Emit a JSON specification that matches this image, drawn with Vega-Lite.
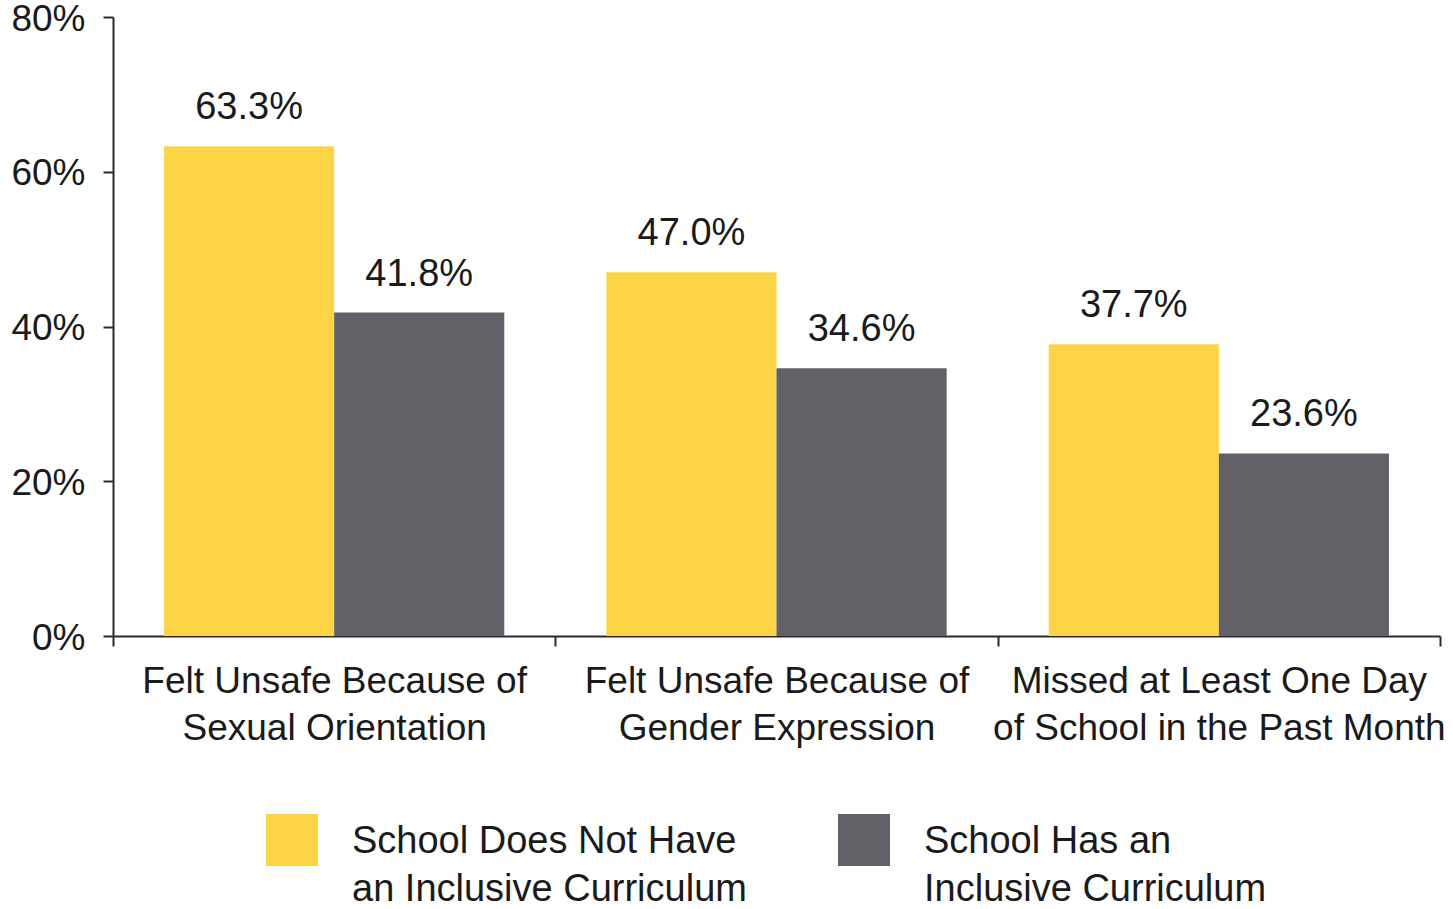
{
  "$schema": "https://vega.github.io/schema/vega-lite/v6.json",
  "autosize": "none",
  "width": 1327,
  "height": 619,
  "padding": {"left": 113, "top": 17, "right": 13, "bottom": 273},
  "background": "white",
  "data": {
    "values": [
      {"measure": "Felt Unsafe Because of Sexual Orientation", "group": "School Does Not Have an Inclusive Curriculum", "value": 0.633},
      {"measure": "Felt Unsafe Because of Sexual Orientation", "group": "School Has an Inclusive Curriculum", "value": 0.418},
      {"measure": "Felt Unsafe Because of Gender Expression", "group": "School Does Not Have an Inclusive Curriculum", "value": 0.470},
      {"measure": "Felt Unsafe Because of Gender Expression", "group": "School Has an Inclusive Curriculum", "value": 0.346},
      {"measure": "Missed at Least One Day of School in the Past Month", "group": "School Does Not Have an Inclusive Curriculum", "value": 0.377},
      {"measure": "Missed at Least One Day of School in the Past Month", "group": "School Has an Inclusive Curriculum", "value": 0.236}
    ]
  },
  "config": {
    "view": {"stroke": null},
    "font": "Liberation Sans",
    "style": {"guide-label": {"lineHeight": 48, "dy": 13}},
    "axis": {
      "labelFont": "Liberation Sans",
      "labelFontSize": 37,
      "labelColor": "#1a1a1a",
      "domainColor": "#2a2a2a",
      "tickColor": "#2a2a2a",
      "domainWidth": 2,
      "tickWidth": 2,
      "tickSize": 10,
      "grid": false,
      "title": null
    },
    "legend": {
      "labelFont": "Liberation Sans",
      "labelFontSize": 38,
      "labelColor": "#1a1a1a"
    }
  },
  "encoding": {
    "x": {
      "field": "measure",
      "type": "nominal",
      "sort": null,
      "scale": {"paddingInner": 0, "paddingOuter": 0},
      "axis": {
        "labelAngle": 0,
        "tickBand": "extent",
        "labelPadding": 4,
        "labelLimit": 0,
        "labelLineHeight": 47,
        "labelBaseline": "top",
        "labelExpr": "datum.label == 'Felt Unsafe Because of Sexual Orientation' ? ['Felt Unsafe Because of', 'Sexual Orientation'] : datum.label == 'Felt Unsafe Because of Gender Expression' ? ['Felt Unsafe Because of', 'Gender Expression'] : datum.label == 'Missed at Least One Day of School in the Past Month' ? ['Missed at Least One Day', 'of School in the Past Month'] : ''"
      }
    },
    "xOffset": {
      "field": "group",
      "type": "nominal",
      "sort": null,
      "scale": {"paddingInner": 0, "paddingOuter": 0.3}
    },
    "y": {
      "field": "value",
      "type": "quantitative",
      "scale": {"domain": [0, 0.8], "nice": false},
      "axis": {
        "values": [0, 0.2, 0.4, 0.6, 0.8],
        "format": ".0%",
        "labelPadding": 18,
        "labelBaseline": "alphabetic"
      }
    }
  },
  "layer": [
    {
      "mark": {"type": "bar"},
      "encoding": {
        "color": {
          "field": "group",
          "type": "nominal",
          "sort": null,
          "scale": {"range": ["#FDD446", "#636167"]},
          "legend": {
            "title": null,
            "orient": "none",
            "direction": "horizontal",
            "legendX": 153,
            "legendY": 797,
            "symbolType": "square",
            "symbolSize": 2704,
            "symbolStrokeWidth": 0,
            "symbolOpacity": 1,
            "labelOffset": 34,
            "labelLimit": 0,
            "labelBaseline": "alphabetic",
            "columnPadding": 91,
            "padding": 0,
            "labelExpr": "datum.label == 'School Does Not Have an Inclusive Curriculum' ? ['School Does Not Have', 'an Inclusive Curriculum'] : ['School Has an', 'Inclusive Curriculum']"
          }
        }
      }
    },
    {
      "mark": {"type": "text", "baseline": "alphabetic", "dy": -27, "fontSize": 38, "color": "#1a1a1a", "font": "Liberation Sans"},
      "encoding": {
        "text": {"field": "value", "type": "quantitative", "format": ".1%"}
      }
    }
  ]
}
